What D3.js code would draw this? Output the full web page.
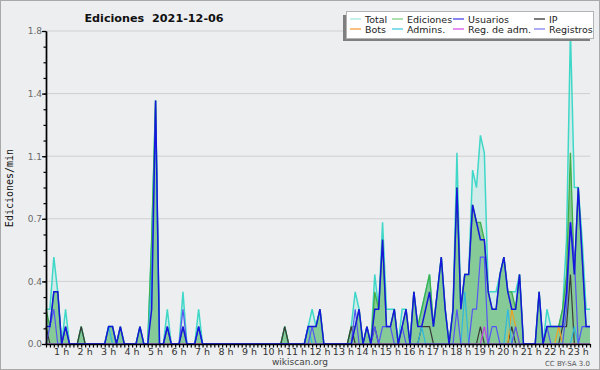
<!DOCTYPE html>
<html>
<head>
<meta charset="utf-8">
<script src="https://cdn.jsdelivr.net/npm/d3@7"></script>
<style>
  body { margin: 0; background: #fff; }
  svg { display: block; }
</style>
</head>
<body>
<script>
// 10 minute bins, from 0:20 to 23:30 (minutes of the day)
const binMinutes = d3.range(20, 1411, 10)
const hourTicks = d3.range(1, 24)
const yTicks = [0, 0.36, 0.72, 1.08, 1.44, 1.8]

// edits per minute, one value per bin
const total = [
  0.2,0.2,0.5,0.3,0,0.2,0,0,0,0.1,
  0,0,0,0,0,0,0.1,0.1,0,0.1,
  0,0,0,0,0.1,0,0,0.6,1.4,0,
  0,0.2,0,0,0,0.3,0,0,0,0.2,
  0,0,0,0,0,0,0,0,0,0,
  0,0,0,0,0,0,0,0,0,0,
  0,0.1,0,0,0,0,0,0.1,0.2,0.1,
  0.2,0,0,0,0,0,0,0,0.1,0.3,
  0.2,0,0.1,0,0.4,0.2,0.7,0.2,0.2,0.2,
  0,0.2,0.2,0,0.3,0.1,0.2,0.3,0.4,0.1,
  0.3,0.5,0.2,0,0.2,1.1,0.2,0.4,0.4,1.0,
  0.9,1.2,1.1,0.3,0.3,0.3,0.4,0.5,0.3,0.3,
  0.3,0.4,0,0,0,0,0.3,0,0.2,0.1,
  0.1,0.1,0.2,0.6,1.8,0.9,0.9,0.6,0.2,0.2
]
const ediciones = [
  0.2,0.1,0.3,0.3,0,0.1,0,0,0,0.1,
  0,0,0,0,0,0,0.1,0.1,0,0.1,
  0,0,0,0,0.1,0,0,0.6,1.4,0,
  0,0.1,0,0,0,0.1,0,0,0,0.1,
  0,0,0,0,0,0,0,0,0,0,
  0,0,0,0,0,0,0,0,0,0,
  0,0.1,0,0,0,0,0,0.1,0.1,0.1,
  0.2,0,0,0,0,0,0,0,0.1,0.1,
  0.2,0,0.1,0,0.3,0.2,0.6,0.1,0.1,0.2,
  0,0.1,0.2,0,0.3,0.1,0.2,0.3,0.4,0.1,
  0.3,0.5,0.2,0,0.2,0.9,0.2,0.4,0.4,0.8,
  0.7,0.7,0.6,0.3,0.2,0.2,0.4,0.5,0.3,0.3,
  0.2,0.4,0,0,0,0,0.3,0,0.1,0.1,
  0.1,0.1,0.2,0.4,1.1,0.4,0.9,0.5,0.1,0.1
]
const usuarios = [
  0.1,0.1,0.3,0.3,0,0.1,0,0,0,0,
  0,0,0,0,0,0,0.1,0.1,0,0.1,
  0,0,0,0,0.1,0,0,0.2,1.4,0,
  0,0.1,0,0,0,0.1,0,0,0,0.1,
  0,0,0,0,0,0,0,0,0,0,
  0,0,0,0,0,0,0,0,0,0,
  0,0,0,0,0,0,0,0.1,0.1,0.1,
  0.2,0,0,0,0,0,0,0,0,0.1,
  0.2,0,0.1,0,0.2,0.2,0.6,0.1,0.1,0.2,
  0,0.1,0.2,0,0.3,0.1,0.1,0.2,0.3,0.1,
  0.3,0.5,0.2,0,0.2,0.9,0.2,0.4,0.4,0.8,
  0.7,0.6,0.6,0.3,0.2,0.2,0.4,0.5,0.3,0.2,
  0.2,0.4,0,0,0,0,0.3,0,0.1,0.1,
  0.1,0.1,0.1,0.3,0.7,0.4,0.9,0.5,0.1,0.1
]
const ip = [
  0.1,0,0,0,0,0,0,0,0,0.1,
  0,0,0,0,0,0,0,0,0,0,
  0,0,0,0,0,0,0,0,0,0,
  0,0,0,0,0,0,0,0,0,0,
  0,0,0,0,0,0,0,0,0,0,
  0,0,0,0,0,0,0,0,0,0,
  0,0.1,0,0,0,0,0,0,0,0,
  0,0,0,0,0,0,0,0,0.1,0,
  0,0,0,0,0.1,0,0,0,0,0,
  0,0,0,0,0,0,0.1,0.1,0.1,0,
  0,0,0,0,0,0,0,0,0,0,
  0,0.1,0,0,0,0,0,0,0,0.1,
  0,0,0,0,0,0,0,0,0,0,
  0,0,0.1,0.1,0.4,0,0,0,0,0
]
const bots = [
  0,0,0,0,0,0,0,0,0,0,
  0,0,0,0,0,0,0,0,0,0,
  0,0,0,0,0,0,0,0,0,0,
  0,0,0,0,0,0,0,0,0,0,
  0,0,0,0,0,0,0,0,0,0,
  0,0,0,0,0,0,0,0,0,0,
  0,0,0,0,0,0,0,0,0,0,
  0,0,0,0,0,0,0,0,0,0,
  0,0,0,0,0,0,0,0,0,0,
  0,0,0,0,0,0,0,0,0,0,
  0,0,0,0,0,0,0,0,0,0,
  0,0,0,0,0,0,0,0,0,0.2,
  0.1,0,0,0,0,0,0,0,0,0,
  0,0.1,0,0,0,0,0,0,0,0
]
const admins = [
  0,0,0,0,0,0,0,0,0,0,
  0,0,0,0,0,0,0.1,0,0,0,
  0,0,0,0,0,0,0,0.4,1.3,0,
  0,0,0,0,0,0,0,0,0,0.1,
  0,0,0,0,0,0,0,0,0,0,
  0,0,0,0,0,0,0,0,0,0,
  0,0,0,0,0,0,0,0.1,0,0,
  0,0,0,0,0,0,0,0,0,0,
  0,0,0,0,0,0,0,0,0,0,
  0,0,0,0,0,0,0.1,0,0,0,
  0,0,0,0,0,0,0,0.3,0,0,
  0,0,0,0,0,0,0,0,0.2,0,
  0,0,0,0,0,0,0,0,0,0,
  0,0,0,0,0,0.1,0,0,0,0
]
const regAdm = [
  0,0,0,0,0,0,0,0,0,0,
  0,0,0,0,0,0,0,0,0,0,
  0,0,0,0,0,0,0,0,0,0,
  0,0,0,0,0,0,0,0,0,0,
  0,0,0,0,0,0,0,0,0,0,
  0,0,0,0,0,0,0,0,0,0,
  0,0,0,0,0,0,0,0,0,0,
  0,0,0,0,0,0,0,0,0,0,
  0,0,0,0,0,0,0,0,0,0,
  0,0,0,0,0,0,0,0,0,0,
  0,0,0,0,0,0,0,0,0,0,
  0,0,0.1,0,0,0,0,0,0,0,
  0,0,0,0,0,0,0,0,0,0,
  0,0,0,0,0,0,0,0,0,0
]
const registros = [
  0,0.1,0.2,0,0,0.1,0,0,0,0,
  0,0,0,0,0,0,0,0,0,0,
  0,0,0,0,0,0,0,0,0,0,
  0,0.1,0,0,0,0.2,0,0,0,0.1,
  0,0,0,0,0,0,0,0,0,0,
  0,0,0,0,0,0,0,0,0,0,
  0,0,0,0,0,0,0,0,0.1,0,
  0,0,0,0,0,0,0,0,0,0.2,
  0,0,0,0,0.1,0,0.1,0.1,0.1,0,
  0,0.1,0,0,0,0,0,0,0,0,
  0,0,0,0,0,0.2,0,0,0,0.2,
  0.2,0.5,0.5,0,0.1,0.1,0,0,0,0,
  0.1,0,0,0,0,0,0,0,0.1,0,
  0,0,0,0.2,0.7,0.5,0,0.1,0.1,0.1
]

const width = 600
const height = 370
const fontSans = 'DejaVu Sans, sans-serif'

const svg = d3.select('body')
  .append('svg')
  .attr('width', width)
  .attr('height', height)

svg.append('rect')
  .attr('x', 0.5).attr('y', 0.5)
  .attr('width', width - 1).attr('height', height - 1)
  .attr('fill', '#edeef0')
  .attr('stroke', '#a9a9a9')

const x = d3.scaleLinear().domain([20, 1410]).range([46, 590])
const y = d3.scaleLinear().domain([0, 1.8]).range([344, 31])

// horizontal grid
svg.append('g')
  .selectAll('line')
  .data(yTicks.slice(1))
  .join('line')
  .attr('x1', 46).attr('x2', 590)
  .attr('y1', d => y(d)).attr('y2', d => y(d))
  .attr('stroke', '#cfcfd1')
  .attr('stroke-width', 1)

const lineOf = d3.line()
  .x((d, i) => x(binMinutes[i]))
  .y(d => y(d))

const areaOf = d3.area()
  .x((d, i) => x(binMinutes[i]))
  .y0(y(0))
  .y1(d => y(d))

svg.append('path')
  .attr('d', areaOf(total))
  .attr('fill', 'rgba(64,224,208,0.16)')

svg.append('path')
  .attr('d', areaOf(ediciones))
  .attr('fill', 'rgba(60,170,70,0.5)')

const lines = [
  { values: total, color: '#3fd8c8', w: 1.5 },
  { values: ediciones, color: '#3fae46', w: 1.3 },
  { values: ip, color: '#3a3a3a', w: 1.2 },
  { values: bots, color: '#f0a020', w: 1.2 },
  { values: admins, color: '#2fb8e0', w: 1.2 },
  { values: regAdm, color: '#c640e0', w: 1.2 },
  { values: registros, color: '#5656f2', w: 1.2 },
  { values: usuarios, color: '#1616dc', w: 1.5 }
]

svg.append('g')
  .selectAll('path')
  .data(lines)
  .join('path')
  .attr('d', d => lineOf(d.values))
  .attr('fill', 'none')
  .attr('stroke', d => d.color)
  .attr('stroke-width', d => d.w)
  .attr('stroke-linejoin', 'miter')

// axes
const axisY = d3.axisLeft(y)
  .tickValues(yTicks)
  .tickFormat(d3.format('.1f'))
  .tickSize(4)
  .tickSizeOuter(0)

const minorY = d3.axisLeft(y)
  .tickValues(d3.range(0, 1.8001, 0.09))
  .tickFormat('')
  .tickSize(2.5)
  .tickSizeOuter(0)

const gy = svg.append('g').attr('transform', 'translate(46,0)').call(axisY)
svg.append('g').attr('transform', 'translate(46,0)').call(minorY)
gy.selectAll('text')
  .attr('font-family', fontSans)
  .attr('font-size', 9)
  .attr('fill', '#6a6a6a')
  .attr('x', -4)

const axisX = d3.axisBottom(x)
  .tickValues(binMinutes)
  .tickFormat('')
  .tickSize(3.5)
  .tickSizeOuter(0)

svg.append('g').attr('transform', 'translate(0,344)').call(axisX)

svg.selectAll('.domain').attr('stroke', '#000').attr('stroke-width', 1.4)
svg.selectAll('.tick line').attr('stroke', '#000').attr('stroke-width', 1.2)

svg.append('g')
  .selectAll('text')
  .data(hourTicks)
  .join('text')
  .attr('x', d => x(d * 60))
  .attr('y', 355)
  .attr('text-anchor', 'middle')
  .attr('font-family', fontSans)
  .attr('font-size', 9.5)
  .attr('fill', '#333')
  .text(d => d + ' h')

// texts
svg.append('text')
  .attr('x', 154).attr('y', 22)
  .attr('text-anchor', 'middle')
  .attr('font-family', fontSans)
  .attr('font-weight', 'bold')
  .attr('font-size', 11.2)
  .attr('fill', '#111')
  .attr('xml:space', 'preserve')
  .text('Ediciones  2021-12-06')

svg.append('text')
  .attr('transform', 'translate(13,188) rotate(-90)')
  .attr('text-anchor', 'middle')
  .attr('font-family', 'DejaVu Sans Mono, monospace')
  .attr('font-size', 10)
  .attr('fill', '#111')
  .text('Ediciones/min')

svg.append('text')
  .attr('x', 300).attr('y', 365)
  .attr('text-anchor', 'middle')
  .attr('font-family', fontSans)
  .attr('font-size', 9)
  .attr('fill', '#444')
  .text('wikiscan.org')

svg.append('text')
  .attr('x', 590).attr('y', 366)
  .attr('text-anchor', 'end')
  .attr('font-family', fontSans)
  .attr('font-size', 7)
  .attr('fill', '#555')
  .text('CC BY-SA 3.0')

// legend
const legendNames = ['Total', 'Ediciones', 'Usuarios', 'IP', 'Bots', 'Admins.', 'Reg. de adm.', 'Registros']
const legendColors = ['#a6e8e0', '#84d086', '#4646e6', '#333333', '#f4a040', '#46cce0', '#d454e6', '#8282f2']
const legendCols = [350, 392, 453, 534]

svg.append('rect')
  .attr('x', 343).attr('y', 15)
  .attr('width', 247).attr('height', 26)
  .attr('fill', '#7f7f7f')
svg.append('rect')
  .attr('x', 346.5).attr('y', 11.5)
  .attr('width', 247).attr('height', 27)
  .attr('fill', '#fff')
  .attr('stroke', '#b4b4b4')

const leg = svg.append('g')
  .selectAll('g')
  .data(legendNames)
  .join('g')
  .attr('transform', (d, i) => `translate(${legendCols[i % 4]},${i < 4 ? 19 : 29})`)

leg.append('line')
  .attr('x1', 0).attr('x2', 11)
  .attr('stroke', (d, i) => legendColors[i])
  .attr('stroke-width', 1.3)

leg.append('text')
  .attr('x', 15).attr('y', 3.5)
  .attr('font-family', fontSans)
  .attr('font-size', 9.5)
  .attr('fill', '#222')
  .text(d => d)
</script>
</body>
</html>
